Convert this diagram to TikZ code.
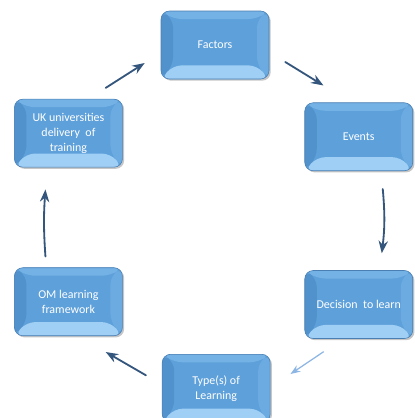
\documentclass[tikz,border=0pt]{standalone}
\usepackage{xcolor}
\usepackage{fontspec}
\setmainfont{Carlito}
\usepackage{tikz}
\usetikzlibrary{positioning,arrows.meta,shadows}

\definecolor{boxblue}{HTML}{5EA0DA}
\definecolor{bevtop}{HTML}{74B1E4}
\definecolor{bevleft}{HTML}{5191CC}
\definecolor{bevright}{HTML}{6BABE1}
\definecolor{bevbottom}{HTML}{9FCFF4}
\definecolor{boxedge}{HTML}{4A7FB3}
\definecolor{arrowdark}{HTML}{34567D}
\definecolor{arrowlight}{HTML}{8DB6E4}

\begin{document}
\begin{tikzpicture}[
>=Stealth,
stepbox/.style={
draw=boxedge,
rounded corners=6pt,
minimum width=2.7cm,
minimum height=1.7cm,
align=center,
text=white,
font=\fontsize{8.5}{10.5}\selectfont,
fill=boxblue,
drop shadow={shadow xshift=1.2pt,shadow yshift=-1.2pt,opacity=.45},
path picture={
\fill[bevtop] (path picture bounding box.north west) -- (path picture bounding box.north east)
 -- ([shift={(-0.3,-0.2)}]path picture bounding box.north east) -- ([shift={(0.3,-0.2)}]path picture bounding box.north west) -- cycle;
\fill[bevleft] (path picture bounding box.north west) -- ([shift={(0.3,-0.2)}]path picture bounding box.north west)
 -- ([shift={(0.3,0.34)}]path picture bounding box.south west) -- (path picture bounding box.south west) -- cycle;
\fill[bevright] (path picture bounding box.north east) -- ([shift={(-0.3,-0.2)}]path picture bounding box.north east)
 -- ([shift={(-0.3,0.34)}]path picture bounding box.south east) -- (path picture bounding box.south east) -- cycle;
\fill[bevbottom] (path picture bounding box.south west) -- ([shift={(0.3,0.34)}]path picture bounding box.south west)
 -- ([shift={(-0.3,0.34)}]path picture bounding box.south east) -- (path picture bounding box.south east) -- cycle;
}
},
flow/.style={
->,
draw=arrowdark,
line width=1.3pt,
line cap=round
},
lightflow/.style={
->,
draw=arrowlight,
line width=0.9pt,
line cap=round
}
]

\useasboundingbox (0,0) rectangle (10.35,-10.45);

%%%%%%%%%%%%%%%%%%%%%%%%%%%%%%%%%%%%%%%%%%%%%
% Cycle Blocks
%%%%%%%%%%%%%%%%%%%%%%%%%%%%%%%%%%%%%%%%%%%%%

\node[stepbox] (factors) at (5.375,-1.125)
{Factors};

\node[stepbox,below right=0.58cm and 0.88cm of factors] (events)
{Events};

\node[stepbox,below=2.48cm of events] (decision)
{Decision\ \ to learn};

\node[stepbox,below left=0.38cm and 0.85cm of decision] (types)
{Type(s) of\\Learning};

\node[stepbox,above left=0.45cm and 0.98cm of types] (om)
{OM learning\\framework};

\node[stepbox,above=2.5cm of om] (uk)
{UK universities\\delivery\ \ of\\training};

%%%%%%%%%%%%%%%%%%%%%%%%%%%%%%%%%%%%%%%%%%%%%
% Connections
%%%%%%%%%%%%%%%%%%%%%%%%%%%%%%%%%%%%%%%%%%%%%

\draw[flow] ([shift={(-0.425,0.275)}]uk.north east)--([shift={(-0.4,-0.45)}]factors.west);

\draw[flow] ([shift={(0.4,-0.425)}]factors.east)--([shift={(0.475,0.425)}]events.north west);

\draw[flow] ([shift={(0.6,-0.45)}]events.south) to[bend left=6] ([shift={(0.575,0.425)}]decision.north);

\draw[lightflow] ([shift={(0.475,-0.325)}]decision.south west)--([shift={(0.5,-0.5)}]types.north east);

\draw[flow] ([shift={(-0.4,0.325)}]types.west)--([shift={(-0.425,-0.4)}]om.south east);

\draw[flow] ([shift={(-0.575,0.275)}]om.north) to[bend left=4] ([shift={(-0.575,-0.55)}]uk.south);

\end{tikzpicture}
\end{document}
